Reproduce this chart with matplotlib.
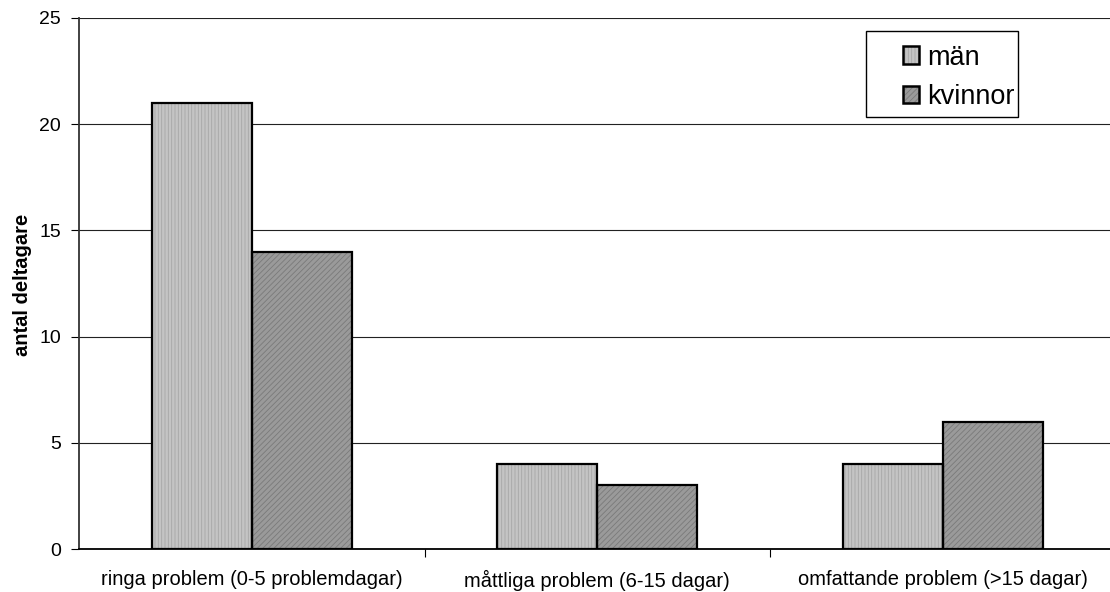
import numpy as np
import matplotlib
matplotlib.use("Agg")

import matplotlib.pyplot as plt
from matplotlib.patches import Patch, Rectangle

plt.rcParams['font.family'] = ['Liberation Sans', 'DejaVu Sans']
plt.rcParams['hatch.linewidth'] = 0.6

categories = ["ringa problem (0-5 problemdagar)",
              "måttliga problem (6-15 dagar)",
              "omfattande problem (>15 dagar)"]
man = [21, 4, 4]
kvinnor = [14, 3, 6]
series_names = ["män", "kvinnor"]

BAR_W = 0.289
STYLES = [
    {"face": "#c4c4c4", "hatch": "|||||", "hcol": "#a6a6a6"},
    {"face": "#9a9a9a", "hatch": "//////", "hcol": "#7a7a7a"},
]

fig = plt.figure(figsize=(11.1, 5.92), dpi=100)
ax = fig.add_axes([0.0712, 0.0726, 0.9288, 0.897])

x = np.arange(len(categories))

for i, vals in enumerate([man, kvinnor]):
    st = STYLES[i]
    pos = x + (i - 0.5) * BAR_W
    # fill + hatch first, then a black outline on top
    ax.bar(pos, vals, BAR_W, color=st["face"], edgecolor=st["hcol"],
           hatch=st["hatch"], linewidth=0, zorder=2)
    ax.bar(pos, vals, BAR_W, fill=False, edgecolor="black",
           linewidth=1.6, zorder=3)

ax.set_xlim(-0.5, 2.484)
ax.set_ylim(0, 25)
ax.set_yticks([0, 5, 10, 15, 20, 25])
ax.yaxis.grid(True, color="#222222", linewidth=0.8)
ax.set_axisbelow(True)

ax.set_xticks(x)
ax.set_xticklabels(categories, fontsize=14.5)
ax.set_xticks([0.5, 1.5], minor=True)
ax.tick_params(axis="x", which="major", length=0, pad=15)
ax.tick_params(axis="x", which="minor", length=6, width=0.8)
ax.tick_params(axis="y", length=6, width=0.8, labelsize=14, pad=7)

for side in ["top", "right"]:
    ax.spines[side].set_visible(False)
ax.spines["left"].set_linewidth(1.3)
ax.spines["left"].set_color("#333333")
ax.spines["bottom"].set_linewidth(1.3)

ax.set_ylabel("antal deltagare", fontsize=14.5, fontweight="bold")
ax.yaxis.set_label_coords(-0.0456, 0.497)

# legend: fixed box, entries placed inside it
ax.add_patch(Rectangle((0.7633, 0.8136), 0.1474, 0.162, transform=ax.transAxes,
                       facecolor="white", edgecolor="black", linewidth=1.0,
                       zorder=5))
handles = []
for i in range(2):
    st = STYLES[i]
    fill = Patch(facecolor=st["face"], edgecolor=st["hcol"], hatch=st["hatch"],
                 linewidth=0)
    edge = Patch(fill=False, edgecolor="black", linewidth=1.8)
    handles.append((fill, edge))
leg = ax.legend(handles=handles, labels=series_names, loc="upper left",
                bbox_to_anchor=(0.7992, 0.950), fontsize=19.5, frameon=False,
                handlelength=0.6, handleheight=0.6, handletextpad=0.3,
                borderpad=0, labelspacing=0.5, borderaxespad=0)
leg.set_zorder(6)

fig.savefig("out.png", dpi=100)
